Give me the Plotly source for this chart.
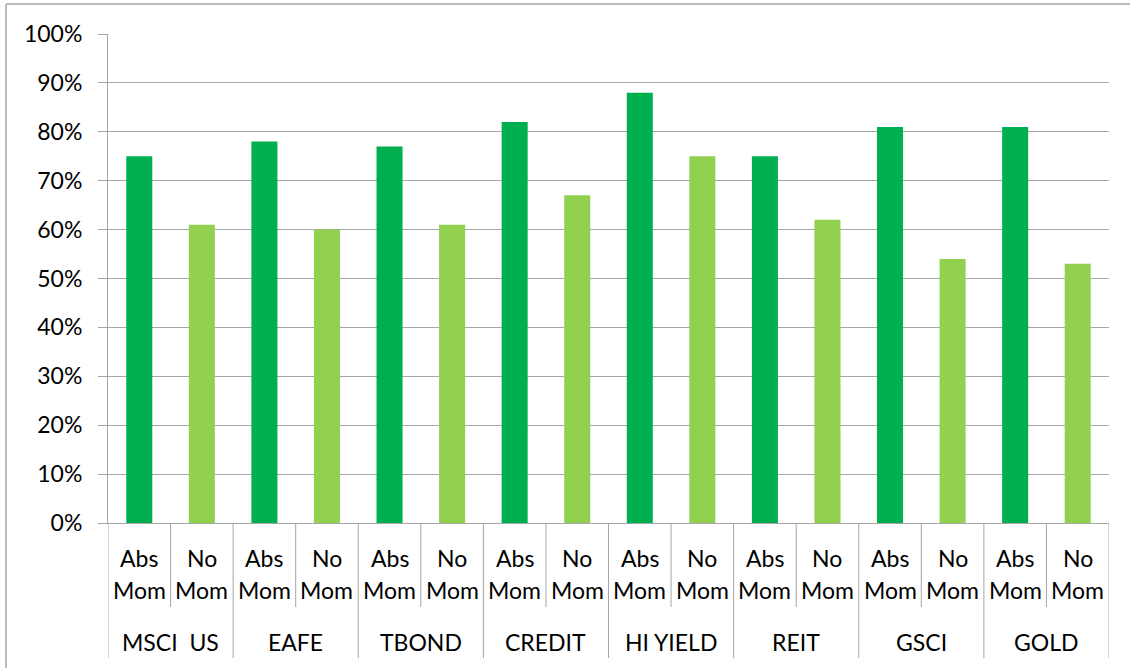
import plotly.graph_objects as go

groups = ["MSCI  US", "EAFE", "TBOND", "CREDIT", "HI YIELD", "REIT", "GSCI", "GOLD"]
sub_top = ["Abs", "No"]
sub_bottom = ["Mom", "Mom"]
abs_mom = [0.75, 0.78, 0.77, 0.82, 0.88, 0.75, 0.81, 0.81]
no_mom = [0.61, 0.60, 0.61, 0.67, 0.75, 0.62, 0.54, 0.53]
y_tick_vals = [0, 0.1, 0.2, 0.3, 0.4, 0.5, 0.6, 0.7, 0.8, 0.9, 1.0]
y_tick_text = ["0%", "10%", "20%", "30%", "40%", "50%", "60%", "70%", "80%", "90%", "100%"]

DARK = "#00B050"
LIGHT = "#92D050"
GRAY = "#A6A6A6"
FONT = "Lato"
FS = 23

keys, vals, cols = [], [], []
for g, a, n in zip(groups, abs_mom, no_mom):
    keys += [g + " Abs Mom", g + " No Mom"]
    vals += [a, n]
    cols += [DARK, LIGHT]

fig = go.Figure(go.Bar(x=keys, y=vals, marker=dict(color=cols, line=dict(width=0)),
                       hoverinfo="x+y"))

W, H = 1130, 668
L, R, T, B = 108, 21, 34, 145
ph = H - T - B
pw = W - L - R

def py(pix):  # pixel y -> paper y
    return (H - B - pix) / ph

def px(pix):
    return (pix - L) / pw

shapes = []
n = len(keys)
for i in range(n + 1):
    is_group = (i % 2 == 0)
    shapes.append(dict(type="line", xref="x", yref="paper", x0=i - 0.5, x1=i - 0.5,
                       y0=0, y1=py(658 if is_group else 607),
                       line=dict(color=GRAY, width=1)))
# outer chart border (left and top)
shapes.append(dict(type="line", xref="paper", yref="paper", x0=px(6), x1=px(6),
                   y0=py(4), y1=py(700), line=dict(color=GRAY, width=1.5)))
shapes.append(dict(type="line", xref="paper", yref="paper", x0=px(6), x1=px(1140),
                   y0=py(4), y1=py(4), line=dict(color=GRAY, width=1.5)))

annotations = []
for i, k in enumerate(keys):
    annotations.append(dict(x=i, xref="x", y=py(558), yref="paper", text=sub_top[i % 2],
                            showarrow=False, yanchor="middle", font=dict(family=FONT, size=FS, color="black")))
    annotations.append(dict(x=i, xref="x", y=py(590), yref="paper", text=sub_bottom[i % 2],
                            showarrow=False, yanchor="middle", font=dict(family=FONT, size=FS, color="black")))
for j, g in enumerate(groups):
    annotations.append(dict(x=2 * j + 0.5, xref="x", y=py(642), yref="paper", text=g,
                            showarrow=False, yanchor="middle", font=dict(family=FONT, size=FS, color="black")))

fig.update_layout(
    width=W, height=H,
    margin=dict(l=L, r=R, t=T, b=B, pad=0),
    paper_bgcolor="white", plot_bgcolor="white",
    bargap=0.584,
    showlegend=False,
    font=dict(family=FONT, size=FS, color="black"),
    shapes=shapes,
    annotations=annotations,
    xaxis=dict(type="category", range=[-0.5, n - 0.5], showticklabels=False, ticks="",
               showgrid=False, showline=True, linecolor=GRAY, linewidth=1, zeroline=False,
               fixedrange=True),
    yaxis=dict(range=[0, 1], tickvals=y_tick_vals, ticktext=y_tick_text, showgrid=True,
               gridcolor=GRAY, gridwidth=1, showline=True, linecolor=GRAY, linewidth=1,
               ticks="outside", ticklen=9, tickcolor=GRAY, zeroline=False,
               ticklabelstandoff=11, tickfont=dict(family=FONT, size=FS, color="black"),
               fixedrange=True),
)

fig.write_html("out.html", config={"displayModeBar": False},
               post_script="document.body.style.margin='0';document.body.style.overflow='hidden';")
